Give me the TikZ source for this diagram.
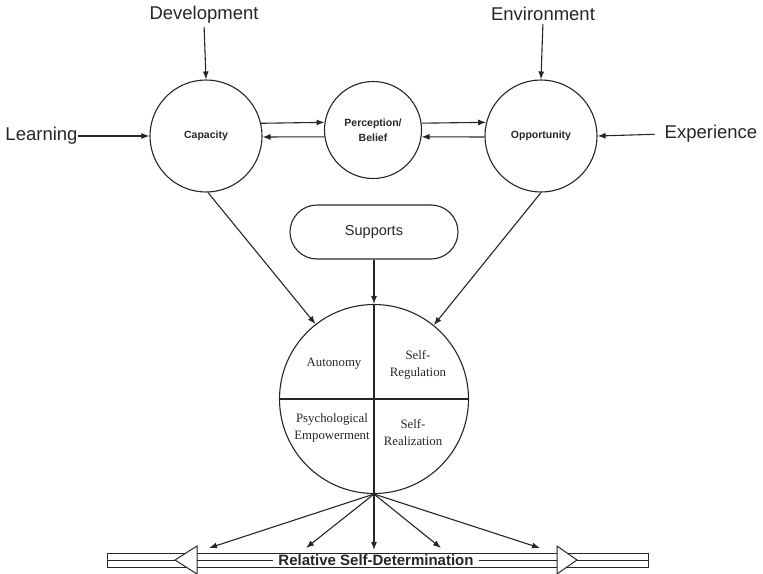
\documentclass[tikz,border=0pt]{standalone}
\usepackage{fontspec}
\setmainfont{Liberation Sans}
\newfontfamily\serifq{Liberation Serif}
\usetikzlibrary{arrows.meta,calc}
\definecolor{ink}{gray}{0.15}
\begin{document}
\begin{tikzpicture}[x=1pt,y=-1pt,
  line/.style={draw=ink, line width=1.1pt},
  arr/.style={draw=ink, line width=1.1pt, -{Latex[length=8pt,width=6pt]}},
  bigcirc/.style={circle, draw=ink, line width=1.1pt, minimum size=112pt, inner sep=0pt, text=ink,
                  align=center, font=\fontsize{10.5}{15}\selectfont\bfseries},
  ext/.style={font=\fontsize{18.5}{22}\selectfont, text=ink, inner sep=0pt},
  quad/.style={font=\serifq\fontsize{12.8}{17}\selectfont, align=center, text=ink, inner sep=0pt},
  bar/.style={draw=ink, line width=1pt},
]
\path[use as bounding box] (0,0) rectangle (763,573);

% top circles
\node[bigcirc] (cap) at (206,136) {Capacity};
\node[bigcirc, minimum size=97pt] (perc) at (373,130) {Perception/\\Belief};
\node[bigcirc] (opp) at (541,136) {Opportunity};

% outer labels
\node[ext] (dev) at (204,15) {Development};
\node[ext] (env) at (543,14) {Environment};
\node[ext] (learn) at (41.5,136) {Learning};
\node[ext] (exp) at (711,134) {Experience};

\draw[arr, shorten <=3pt] (dev.south) -- (cap.north);
\draw[arr, shorten <=3pt] (env.south) -- (opp.north);
\draw[arr] (learn.east) -- (cap.west);
\draw[arr, shorten <=10pt] (exp.west) -- (opp.east);

% between circles
\draw[arr] (cap.13.4) -- (perc.171.7);
\draw[arr] (perc.188.3) -- (cap.-1);
\draw[arr] (perc.8.3) -- (opp.166.6);
\draw[arr] (opp.181) -- (perc.-8.3);

% supports
\node[draw=ink, line width=1.1pt, rounded corners=27pt, minimum width=168pt, minimum height=54pt,
      text=ink, font=\fontsize{14.5}{17}\selectfont] (sup) at (374,232) {Supports};

% main circle
\node[circle, draw=ink, line width=1.1pt, minimum size=189pt, inner sep=0pt] (main) at (374,399) {};
\draw[line] (main.north) -- (main.south);
\draw[line] (main.west) -- (main.east);
\draw[arr] (sup.south) -- (main.north);
\draw[arr] (cap.-88) -- (main.128.6);
\draw[arr] (opp.-90) -- (main.51.9);

\node[quad] (auto) at (334,364) {Autonomy};
\node[quad] (sreg) at (418,365) {Self-\\Regulation};
\node[quad] (psy) at (332,428) {Psychological\\Empowerment};
\node[quad] (sreal) at (413,433) {Self-\\Realization};

% fan
\coordinate (t1) at (209,548);
\coordinate (t2) at (306,548);
\coordinate (t3) at (374,550);
\coordinate (t4) at (441,548);
\coordinate (t5) at (540,548);
\foreach \t in {t1,t2,t3,t4,t5} \draw[arr] (main.south) -- (\t);

% double arrow bar
\draw[bar] (186,553) -- (107,553) -- (107,567) -- (186,567);
\draw[bar] (107,560) -- (175,560);
\draw[bar] (197,546) -- (175,560) -- (197,574) -- cycle;
\draw[bar] (197,553) -- (557,553);
\draw[bar] (197,567) -- (557,567);
\node[inner ysep=0pt, inner xsep=5pt, text=ink, font=\fontsize{15}{17}\selectfont\bfseries] (rsd) at (376,560) {Relative Self-Determination};
\draw[bar] (197,560) -- (rsd.west);
\draw[bar] (rsd.east) -- (557,560);
\draw[bar] (557,546) -- (577,560) -- (557,574) -- cycle;
\draw[bar] (567,553) -- (648,553) -- (648,567) -- (567,567);
\draw[bar] (577,560) -- (648,560);
\end{tikzpicture}
\end{document}
